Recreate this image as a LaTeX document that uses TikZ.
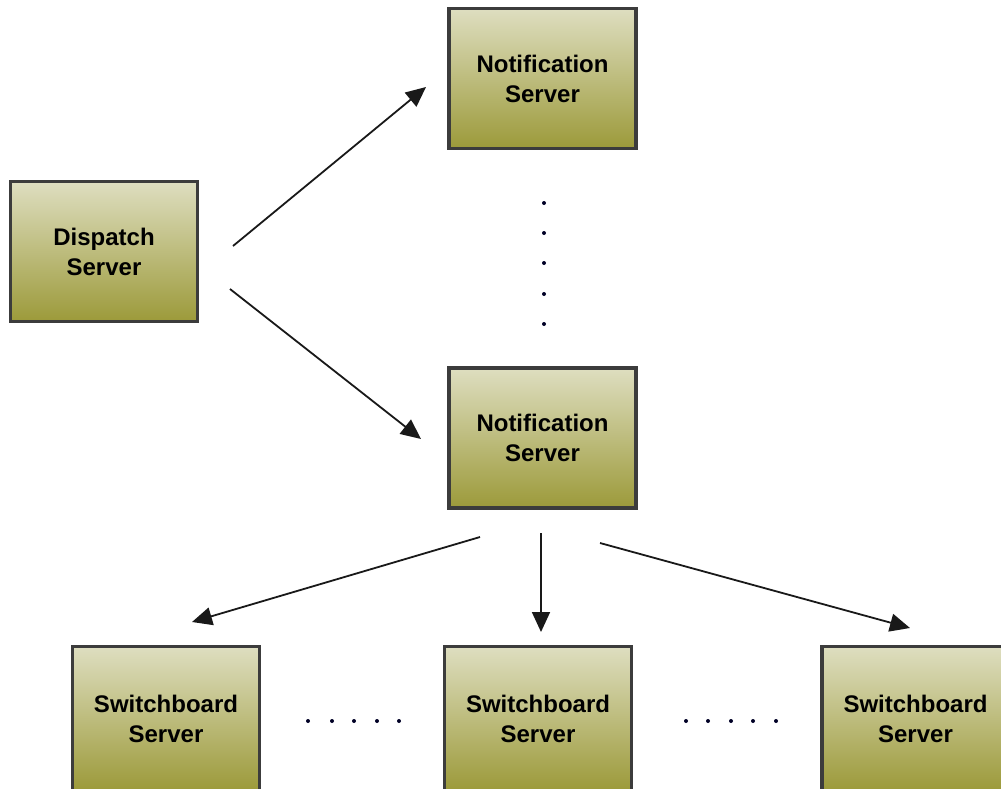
\documentclass[tikz,border=0pt]{standalone}
\usepackage{fontspec}
\setmainfont{Liberation Sans}
\usetikzlibrary{arrows.meta,calc}

\definecolor{boxtop}{HTML}{DEDEC0}
\definecolor{boxbottom}{HTML}{9C9A3A}
\definecolor{boxedge}{HTML}{3C3C3C}

\tikzset{
  server/.style={
    draw=boxedge, line width=3.5pt,
    top color=boxtop, bottom color=boxbottom,
    minimum width=187pt, minimum height=140pt,
    inner sep=0pt, align=center,
    font=\fontsize{24}{30}\selectfont\bfseries
  },
  tallserver/.style={server, minimum height=144pt},
  flow/.style={
    line width=1.8pt, draw=black!90,
    -{Triangle[length=20pt,width=18pt]}
  },
  dot/.style={circle, fill=black!85!blue, inner sep=0pt, minimum size=4pt}
}

\begin{document}
\begin{tikzpicture}[x=1pt,y=-1pt]
  \useasboundingbox (0,0) rectangle (1001,788);
  \clip (0,0) rectangle (1001,788);

  % servers
  \node[server] (disp) at (104,251.5) {Dispatch\\Server};
  \node[server] (ntop) at (542.5,78.5) {Notification\\Server};
  \node[server] (nmid) at (542.5,438) {Notification\\Server};
  \node[tallserver] (swl) at (166,718.5) {Switchboard\\Server};
  \node[tallserver] (swm) at (538,718.5) {Switchboard\\Server};
  \node[tallserver] (swr) at (915.5,718.5) {Switchboard\\Server};

  % arrow end points beside the boxes
  \coordinate (dOutA) at (233,246);
  \coordinate (dOutB) at (230,289);
  \coordinate (ntopIn) at (426,87);
  \coordinate (nmidIn) at (421,439);
  \coordinate (nOutL) at (480,537);
  \coordinate (nOutM) at (541,533);
  \coordinate (nOutR) at (600,543);
  \coordinate (swlIn) at (192,622);
  \coordinate (swmIn) at (541,632);
  \coordinate (swrIn) at (910,628);

  % dispatch to notification servers
  \draw[flow] (dOutA) -- (ntopIn);
  \draw[flow] (dOutB) -- (nmidIn);

  % notification server to switchboard servers
  \draw[flow] (nOutL) -- (swlIn);
  \draw[flow] (nOutM) -- (swmIn);
  \draw[flow] (nOutR) -- (swrIn);

  % ellipses between servers
  \foreach \y [count=\i] in {203,233,263,294,324}
    \node[dot] (vdot\i) at (544,\y) {};
  \foreach \x [count=\i] in {308,332,354,377,399}
    \node[dot] (ldot\i) at (\x,721) {};
  \foreach \x [count=\i] in {686,708,731,753,776}
    \node[dot] (rdot\i) at (\x,721) {};
\end{tikzpicture}
\end{document}
